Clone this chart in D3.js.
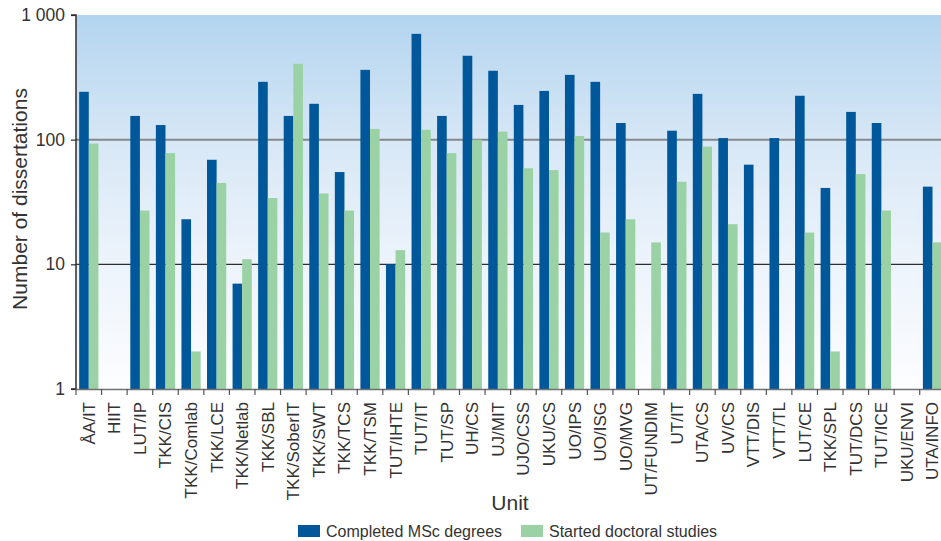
<!DOCTYPE html>
<html>
<head>
<meta charset="utf-8">
<script src="https://cdn.jsdelivr.net/npm/d3@7/dist/d3.min.js"></script>
<style>
  html, body { margin: 0; padding: 0; background: #fff; }
  svg { display: block; font-family: "Liberation Sans", Arial, sans-serif; }
</style>
</head>
<body>
<svg id="chart" width="941" height="541"></svg>
<script>
// Units (research groups) along the x axis
const units = ["ÅA/IT", "HIIT", "LUT/IP", "TKK/CIS", "TKK/Comlab", "TKK/LCE", "TKK/Netlab",
  "TKK/SBL", "TKK/SoberIT", "TKK/SWT", "TKK/TCS", "TKK/TSM", "TUT/IHTE", "TUT/IT", "TUT/SP",
  "UH/CS", "UJ/MIT", "UJO/CSS", "UKU/CS", "UO/IPS", "UO/ISG", "UO/MVG", "UT/FUNDIM", "UT/IT",
  "UTA/CS", "UV/CS", "VTT/DIS", "VTT/TL", "LUT/CE", "TKK/SPL", "TUT/DCS", "TUT/ICE",
  "UKU/ENVI", "UTA/INFO"];

// Completed MSc degrees per unit (0 = none reported)
const completedMSc = [242, 0, 155, 131, 23, 69, 7, 291, 155, 194, 55, 363, 10, 706, 155,
  471, 357, 190, 246, 331, 291, 136, 0, 118, 233, 103, 63, 103, 225, 41, 167, 136, 0, 42];

// Started doctoral studies per unit (0 = none reported)
const startedDoctoral = [93, 0, 27, 78, 2, 45, 11, 34, 406, 37, 27, 122, 13, 120, 78,
  100, 116, 59, 57, 107, 18, 23, 15, 46, 88, 21, 0, 0, 18, 2, 53, 27, 0, 15];

const yTicks = [1, 10, 100, 1000];
const yTickLabels = ["1", "10", "100", "1 000"];

const seriesNames = ["Completed MSc degrees", "Started doctoral studies"];
const seriesColors = ["#00589b", "#9ad2a5"];

const svg = d3.select("#chart");
const plotLeft = 76, plotTop = 15, plotBottom = 389;
const bandW = 25.567;
const plotRight = plotLeft + bandW * units.length;

const x = d3.scaleBand().domain(units).range([plotLeft, plotRight]).paddingInner(0).paddingOuter(0);
const xSub = d3.scaleBand().domain([0, 1]).range([0, x.bandwidth()]).paddingInner(0).paddingOuter(0.33);
const y = d3.scaleLog().domain([1, 1000]).range([plotBottom, plotTop]);

// background gradient
const defs = svg.append("defs");
const grad = defs.append("linearGradient").attr("id", "bg").attr("x1", 0).attr("y1", 0).attr("x2", 0).attr("y2", 1);
grad.append("stop").attr("offset", "0%").attr("stop-color", "#b3d4ef");
grad.append("stop").attr("offset", "35%").attr("stop-color", "#d8e8f6");
grad.append("stop").attr("offset", "65%").attr("stop-color", "#ecf3fb");
grad.append("stop").attr("offset", "100%").attr("stop-color", "#fcfdff");

svg.append("rect").attr("x", plotLeft).attr("y", plotTop)
  .attr("width", plotRight - plotLeft).attr("height", plotBottom - plotTop).attr("fill", "url(#bg)");

// gridlines
svg.append("line").attr("x1", plotLeft).attr("x2", plotRight).attr("y1", y(100)).attr("y2", y(100))
  .attr("stroke", "#85878c").attr("stroke-width", 2);
svg.append("line").attr("x1", plotLeft).attr("x2", plotRight).attr("y1", y(10)).attr("y2", y(10))
  .attr("stroke", "#2e2e2e").attr("stroke-width", 1.2);

// bars
const seriesData = [completedMSc, startedDoctoral];
seriesData.forEach((vals, si) => {
  svg.append("g").selectAll("rect")
    .data(units.map((u, i) => ({ u, v: vals[i] })).filter(d => d.v > 0))
    .join("rect")
    .attr("x", d => x(d.u) + xSub(si))
    .attr("width", xSub.bandwidth())
    .attr("y", d => y(d.v))
    .attr("height", d => y(1) - y(d.v))
    .attr("fill", seriesColors[si]);
});

// y axis
const yAxis = d3.axisLeft(y).tickValues(yTicks).tickFormat((d, i) => yTickLabels[i]).tickSize(5).tickPadding(6);
const gy = svg.append("g").attr("transform", `translate(${plotLeft},0)`).call(yAxis);
gy.select(".domain").attr("stroke", "#2e2e2e").attr("stroke-width", 1.5).attr("d", `M-5,${plotTop}H0V${plotBottom}H-5`);
gy.selectAll(".tick line").attr("stroke", "#2e2e2e").attr("stroke-width", 1.2);
gy.selectAll(".tick text").attr("fill", "#333").style("font-size", "17.5px");

// x axis
const xAxis = d3.axisBottom(x).tickSize(0).tickPadding(0);
const gx = svg.append("g").attr("transform", `translate(0,${plotBottom})`).call(xAxis);
gx.select(".domain").attr("stroke", "#6f7175").attr("stroke-width", 1.5);
gx.selectAll(".tick text")
  .attr("fill", "#333").style("font-size", "17px")
  .attr("text-anchor", "end")
  .attr("transform", "rotate(-90)")
  .attr("x", -13).attr("y", 0).attr("dy", "0.35em");
// band boundary ticks
svg.append("g").selectAll("line")
  .data(units)
  .join("line")
  .attr("x1", d => x(d)).attr("x2", d => x(d))
  .attr("y1", plotBottom).attr("y2", plotBottom + 6)
  .attr("stroke", "#555").attr("stroke-width", 1.2);

// axis titles
svg.append("text").attr("x", 510).attr("y", 510).attr("text-anchor", "middle")
  .attr("fill", "#333").style("font-size", "21px").text("Unit");
svg.append("text").attr("transform", `translate(27,199) rotate(-90)`)
  .attr("text-anchor", "middle").attr("fill", "#333").style("font-size", "21px")
  .text("Number of dissertations");

// legend
const legend = svg.append("g");
const legendX = [298, 521];
seriesNames.forEach((name, i) => {
  legend.append("rect").attr("x", legendX[i]).attr("y", 525).attr("width", 22).attr("height", 12)
    .attr("fill", seriesColors[i]);
  legend.append("text").attr("x", legendX[i] + 28).attr("y", 537)
    .attr("fill", "#333").style("font-size", "16px").text(name);
});
</script>
</body>
</html>
